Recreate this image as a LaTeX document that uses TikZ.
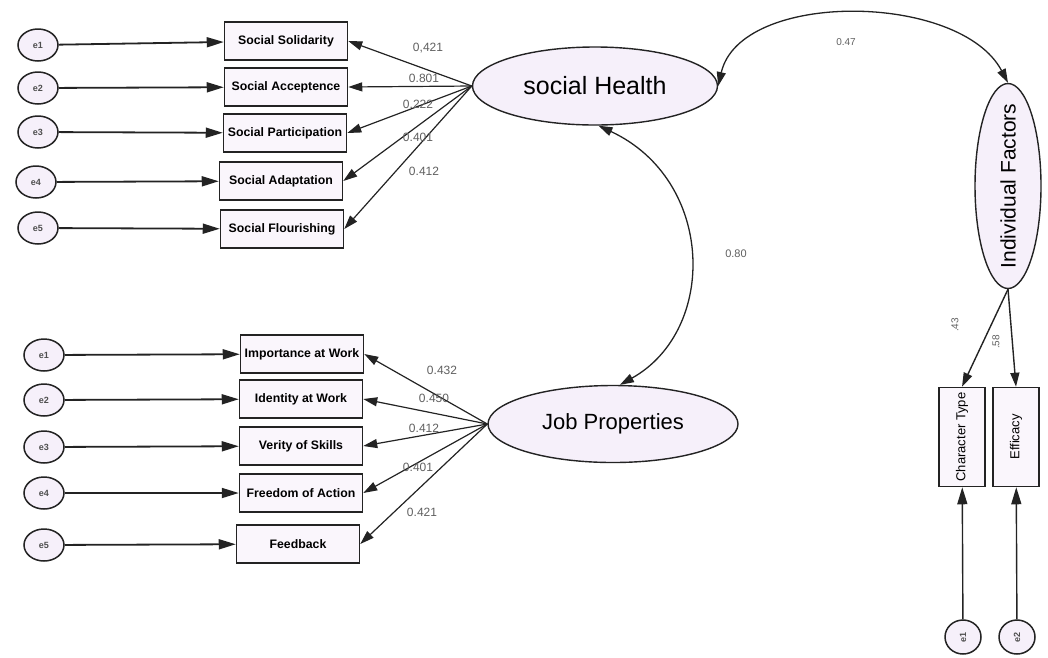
\documentclass[tikz,border=0pt]{standalone}
\usepackage{fontspec}
\setmainfont{Liberation Sans}
\usetikzlibrary{shapes.geometric,arrows.meta}
\definecolor{fillv}{RGB}{246,240,250}
\definecolor{linec}{RGB}{35,35,35}
\definecolor{coefc}{RGB}{95,95,95}
\tikzset{
  errc/.style={ellipse,draw=linec,line width=1.5pt,fill=fillv,minimum width=40pt,minimum height=32pt,inner sep=0pt,font=\fontsize{9}{9}\selectfont\bfseries,text=linec!80},
  obs/.style={rectangle,draw=linec,line width=1.5pt,fill=fillv!60,minimum width=123pt,minimum height=38pt,inner sep=0pt,font=\fontsize{12.3}{12.3}\selectfont\bfseries},
  vobs/.style={rectangle,draw=linec,line width=1.5pt,fill=fillv!60,minimum width=46pt,minimum height=99pt,inner sep=0pt,font=\fontsize{13}{13}\selectfont},
  lat/.style={ellipse,draw=linec,line width=1.4pt,fill=fillv,inner sep=0pt},
  errarr/.style={line width=1.8pt,draw=linec,-{Triangle[length=17pt,width=10pt]}},
  loadarr/.style={line width=1.2pt,draw=linec,-{Triangle[length=14pt,width=9pt]}},
  covarr/.style={line width=1.3pt,draw=linec,{Triangle[length=14pt,width=9pt]}-{Triangle[length=14pt,width=9pt]}},
  coef/.style={font=\fontsize{12}{12}\selectfont,text=coefc,inner sep=0pt}
}
\begin{document}
\begin{tikzpicture}[x=1pt,y=-1pt]
\useasboundingbox (0,0) rectangle (1048,657);
% top block
\node[errc] (te1) at (38,45) {e1};
\node[errc] (te2) at (38,88) {e2};
\node[errc] (te3) at (38,132) {e3};
\node[errc] (te4) at (36,182) {e4};
\node[errc] (te5) at (38,228) {e5};
\node[obs] (ss) at (286,41) {Social Solidarity};
\node[obs] (sa) at (286,87) {Social Acceptence};
\node[obs] (sp) at (285,133) {Social Participation};
\node[obs] (sd) at (281,181) {Social Adaptation};
\node[obs] (sf) at (282,229) {Social Flourishing};
\node[lat,minimum width=245pt,minimum height=78pt,font=\fontsize{25}{25}\selectfont] (sh) at (595,86) {social Health};
\foreach \e/\b in {te1/ss,te2/sa,te3/sp,te4/sd,te5/sf}{\draw[errarr] (\e) -- (\b);}
\foreach \b in {ss,sa,sp,sd,sf}{\draw[loadarr] (sh.west) -- (\b.east);}
\node[coef] (c1) at (428,48) {0,421};
\node[coef] (c2) at (424,78) {0.801};
\node[coef] (c3) at (418,104) {0.222};
\node[coef] (c4) at (418,137) {0.401};
\node[coef] (c5) at (424,171) {0.412};
% bottom block
\node[errc] (be1) at (44,355) {e1};
\node[errc] (be2) at (44,400) {e2};
\node[errc] (be3) at (44,447) {e3};
\node[errc] (be4) at (44,493) {e4};
\node[errc] (be5) at (44,545) {e5};
\node[obs] (iw) at (302,354) {Importance at Work};
\node[obs] (idw) at (301,399) {Identity at Work};
\node[obs] (vs) at (301,446) {Verity of Skills};
\node[obs] (fa) at (301,493) {Freedom of Action};
\node[obs] (fb) at (298,544) {Feedback};
\node[lat,minimum width=250pt,minimum height=77pt,font=\fontsize{22}{22}\selectfont] (jp) at (613,424) {Job Properties};
\foreach \e/\b in {be1/iw,be2/idw,be3/vs,be4/fa,be5/fb}{\draw[errarr] (\e) -- (\b);}
\foreach \b in {iw,idw,vs,fa,fb}{\draw[loadarr] (jp.west) -- (\b.east);}
\node[coef] (d1) at (442,370) {0.432};
\node[coef] (d2) at (434,398) {0.450};
\node[coef] (d3) at (424,428) {0.412};
\node[coef] (d4) at (418,467) {0.401};
\node[coef] (d5) at (422,512) {0.421};
% individual factors
\node[lat,minimum width=66pt,minimum height=205pt] (if) at (1008,186) {};
\node[font=\fontsize{21}{21}\selectfont,inner sep=0pt] (iftext) at (if.center) {\rotatebox{90}{Individual Factors}};
\node[vobs] (ct) at (962,437) {\rotatebox{90}{Character Type}};
\node[vobs] (ef) at (1016,437) {\rotatebox{90}{Efficacy}};
\node[errc,minimum width=36pt,minimum height=34pt] (ce1) at (963,637) {\rotatebox{90}{e1}};
\node[errc,minimum width=36pt,minimum height=34pt] (ce2) at (1017,637) {\rotatebox{90}{e2}};
\draw[loadarr,line width=1.4pt] (if.south) -- (ct.north);
\draw[loadarr,line width=1.4pt] (if.south) -- (ef.north);
\draw[errarr,line width=1.4pt] (ce1) -- (ct);
\draw[errarr,line width=1.4pt] (ce2) -- (ef);
\node[coef,font=\fontsize{10}{10}\selectfont] (g1) at (955,325) {\rotatebox{90}{.43}};
\node[coef,font=\fontsize{10}{10}\selectfont] (g2) at (996,342) {\rotatebox{90}{.58}};
% covariances
\draw[covarr] (sh.east) .. controls (740,-10) and (960,-8) .. (if.north);
\node[coef,font=\fontsize{10}{10}\selectfont] (k1) at (846,42) {0.47};
\draw[covarr] (sh.-85) .. controls (715,180) and (718,330) .. (jp.80);
\node[coef,font=\fontsize{11}{11}\selectfont] (k2) at (736,254) {0.80};
\end{tikzpicture}
\end{document}
